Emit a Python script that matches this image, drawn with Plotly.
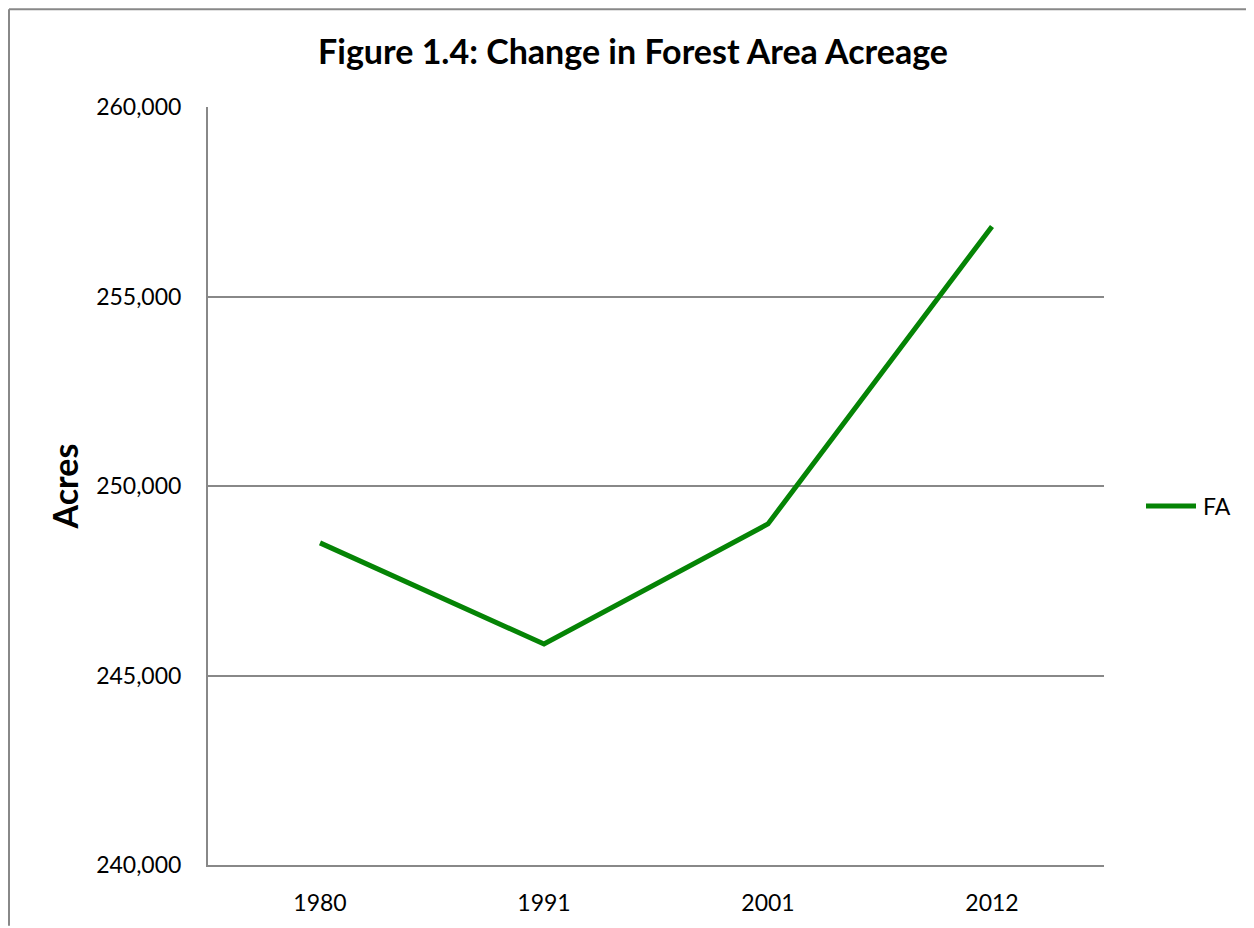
import plotly.graph_objects as go

years = ["1980", "1991", "2001", "2012"]
acres = [248500, 245830, 249000, 256850]
y_ticks = [240000, 245000, 250000, 255000, 260000]
y_tick_labels = ["240,000", "245,000", "250,000", "255,000", "260,000"]
series_name = "FA"

# page body has an 8px margin, so the figure is laid out 8px smaller
OFF = 8
W, H = 1254 - OFF, 928 - OFF
L, R, T, B = 208 - OFF, 150, 107 - OFF, 61
pw, ph = W - L - R, H - T - B

def px_x(p):
    return (p - OFF - L) / pw

def px_y(p):
    return (H - B - (p - OFF)) / ph

fig = go.Figure()
fig.add_trace(go.Scatter(x=years, y=acres, mode="lines", name=series_name,
                         line=dict(color="#058405", width=5), showlegend=False))

font = "Lato, 'Open Sans', sans-serif"
grey = "#888888"
fig.update_layout(
    width=W, height=H,
    margin=dict(l=L, r=R, t=T, b=B),
    paper_bgcolor="white", plot_bgcolor="white",
    font=dict(family=font, color="black", size=23),
    title=dict(text="<b>Figure 1.4: Change in Forest Area Acreage</b>",
               x=(633 - OFF) / W, xanchor="center", y=1 - (52 - OFF) / H, yanchor="middle",
               font=dict(size=34, family=font)),
    xaxis=dict(type="category", range=[-0.5, 3.5], showgrid=False,
               showline=True, linecolor=grey, linewidth=2,
               ticks="", tickfont=dict(size=23), ticklabelstandoff=16),
    yaxis=dict(range=[240000, 260000], tickvals=y_ticks, ticktext=y_tick_labels,
               showgrid=True, gridcolor=grey, gridwidth=1.5,
               showline=True, linecolor=grey, linewidth=2,
               ticks="", zeroline=False, ticklabelstandoff=20,
               tickfont=dict(size=23),
               title=dict(text="<b>Acres</b>", font=dict(size=34), standoff=7)),
    shapes=[
        dict(type="line", xref="paper", yref="paper",
             x0=px_x(9), x1=px_x(1254), y0=px_y(9), y1=px_y(9),
             line=dict(color=grey, width=2)),
        dict(type="line", xref="paper", yref="paper",
             x0=px_x(9), x1=px_x(9), y0=px_y(9), y1=px_y(928),
             line=dict(color=grey, width=2)),
        # legend key line
        dict(type="line", xref="paper", yref="paper",
             x0=px_x(1146), x1=px_x(1196), y0=px_y(507), y1=px_y(507),
             line=dict(color="#058405", width=5)),
    ],
    annotations=[
        dict(text=series_name, xref="paper", yref="paper", x=px_x(1201), y=px_y(507),
             xanchor="left", yanchor="middle", showarrow=False, font=dict(size=23)),
    ],
)
fig.write_html("out.html")
